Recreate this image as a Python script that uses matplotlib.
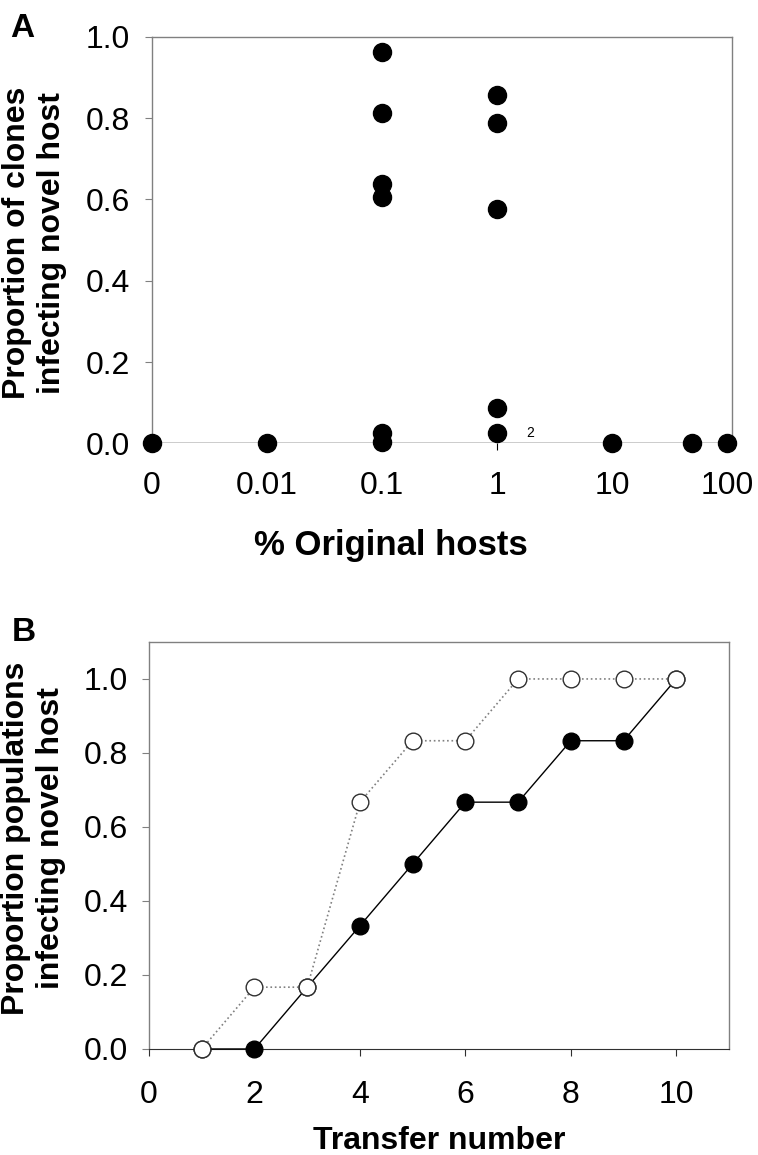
import matplotlib
matplotlib.use('Agg')
import matplotlib.pyplot as plt
import numpy as np

plt.rcParams['font.family'] = ['Liberation Sans', 'DejaVu Sans']

# Panel A: % original hosts vs proportion of clones infecting novel host
hosts_labels = ['0', '0.01', '0.1', '1', '10', '100']
hosts_pos = [0, 1, 2, 3, 4, 5]
# points: (position on category axis, proportion)
a_x = [0, 1,
       2, 2, 2, 2, 2, 2,
       3, 3, 3, 3, 3,
       4, 4.699, 5]
a_y = [0.0, 0.0,
       0.963, 0.812, 0.638, 0.605, 0.025, 0.004,
       0.857, 0.789, 0.576, 0.087, 0.026,
       0.0, 0.0, 0.0]

# Panel B: transfer number vs proportion of populations infecting novel host
transfer = [1, 2, 3, 4, 5, 6, 7, 8, 9, 10]
filled_prop = [0.0, 0.0, 0.167, 0.333, 0.5, 0.667, 0.667, 0.833, 0.833, 1.0]
open_prop = [0.0, 0.167, 0.167, 0.667, 0.833, 0.833, 1.0, 1.0, 1.0, 1.0]

fig = plt.figure(figsize=(7.58, 11.55), dpi=100)
box_col = '#808080'

# ---- A ----
ax1 = fig.add_axes([0.2005, 0.6162, 0.7652, 0.3518])
ax1.axhline(0, color='black', lw=1.0, zorder=1)
ax1.scatter(a_x, a_y, s=13**2, color='black', zorder=3, clip_on=False)
ax1.text(3.25, 0.026, '2', fontsize=10, va='center', ha='left')
ax1.set_xlim(0, 5.043)
ax1.set_ylim(0, 1.0)
ax1.set_xticks(hosts_pos)
ax1.set_xticklabels(hosts_labels)
ax1.set_yticks(np.arange(0, 1.01, 0.2))
ax1.set_yticklabels([f'{v:.1f}' for v in np.arange(0, 1.01, 0.2)])
ax1.spines['bottom'].set_visible(False)
for s in ['top', 'left', 'right']:
    ax1.spines[s].set_color(box_col)
    ax1.spines[s].set_linewidth(1.0)
ax1.tick_params(axis='y', direction='out', length=5, width=0.8, color=box_col, labelsize=23, pad=11)
ax1.tick_params(axis='x', direction='out', length=5, width=0.8, color='black', labelsize=23, pad=15)
ax1.set_xlabel('% Original hosts', fontsize=25, fontweight='bold')
ax1.xaxis.set_label_coords(0.412, -0.21)
ax1.set_ylabel('Proportion of clones\ninfecting novel host', fontsize=23, fontweight='bold', linespacing=1.2)
ax1.yaxis.set_label_coords(-0.147, 0.493)
fig.text(0.014, 0.975, 'A', fontsize=24, fontweight='bold', va='center', ha='left')

# ---- B ----
ax2 = fig.add_axes([0.1966, 0.0918, 0.7652, 0.3524])
ax2.plot(transfer, filled_prop, color='black', lw=1.0, marker='o', ms=12,
         mfc='black', mec='black', zorder=3, clip_on=False)
ax2.plot(transfer, open_prop, color='#808080', lw=1.2, ls=':', marker='o', ms=12,
         mfc='white', mec='#303030', mew=1.0, zorder=4, clip_on=False)
ax2.set_xlim(0, 11)
ax2.set_ylim(0, 1.1)
ax2.set_xticks(np.arange(0, 11, 2))
ax2.set_yticks(np.arange(0, 1.01, 0.2))
ax2.set_yticklabels([f'{v:.1f}' for v in np.arange(0, 1.01, 0.2)])
ax2.spines['bottom'].set_color('#303030')
for s in ['top', 'left', 'right']:
    ax2.spines[s].set_color(box_col)
    ax2.spines[s].set_linewidth(1.0)
ax2.tick_params(axis='y', direction='out', length=5, width=0.8, color=box_col, labelsize=23, pad=10)
ax2.tick_params(axis='x', direction='out', length=5, width=0.8, color='#303030', labelsize=23, pad=17)
ax2.set_xlabel('Transfer number', fontsize=23, fontweight='bold', va='baseline')
ax2.xaxis.set_label_coords(0.5, -0.245)
ax2.set_ylabel('Proportion populations\ninfecting novel host', fontsize=23, fontweight='bold', linespacing=1.2)
ax2.yaxis.set_label_coords(-0.143, 0.518)
fig.text(0.015, 0.452, 'B', fontsize=24, fontweight='bold', va='center', ha='left')

fig.savefig('out.png', dpi=100)
